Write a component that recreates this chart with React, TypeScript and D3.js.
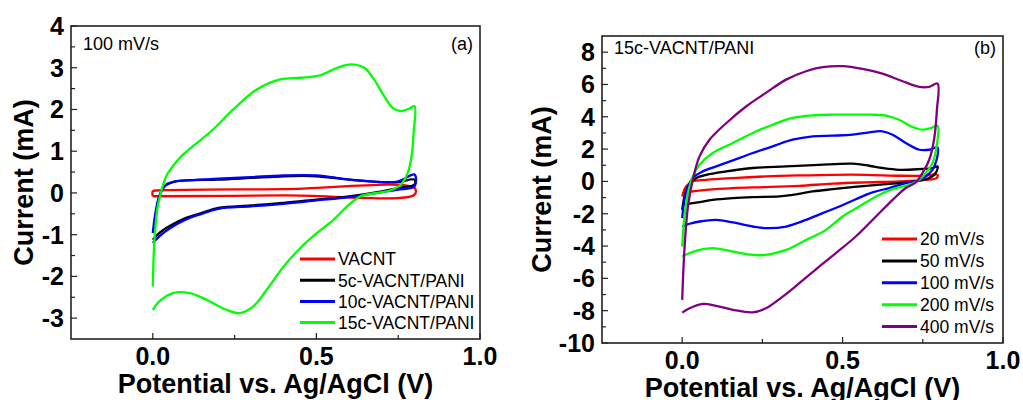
import React from 'react';
import * as d3 from 'd3';

type Pt = [number, number];

// panel (a): 100 mV/s, different cycle counts  [V, mA]
const vacnt: Pt[] = [
  [0, -0.08], [0, 0.04], [0.02, 0.06], [0.4, 0.09], [0.8, 0.12],
  [0.8, -0.04], [0.4, -0.06], [0, -0.08],
];
const pani5c: Pt[] = [
  [0.002, -0.96], [0.01, -0.48], [0.02, -0.08], [0.036, 0.16], [0.061, 0.26], [0.1, 0.3],
  [0.2, 0.32], [0.3, 0.36], [0.4, 0.4], [0.5, 0.4], [0.6, 0.32], [0.7, 0.26], [0.75, 0.26], [0.8, 0.32],
  [0.8, 0.2], [0.75, 0.12], [0.7, 0.04], [0.6, -0.08], [0.5, -0.16], [0.4, -0.24], [0.3, -0.3],
  [0.2, -0.36], [0.15, -0.48], [0.1, -0.6], [0.05, -0.8], [0.02, -0.96], [0, -1.12],
];
const pani10c: Pt[] = [
  [0, -0.96], [0.008, -0.48], [0.02, -0.08], [0.041, 0.2], [0.072, 0.28], [0.1, 0.3],
  [0.2, 0.34], [0.3, 0.38], [0.4, 0.42], [0.5, 0.42], [0.6, 0.32], [0.7, 0.26], [0.75, 0.28], [0.8, 0.44],
  [0.8, 0.16], [0.75, 0.08], [0.7, 0.02], [0.6, -0.1], [0.5, -0.18], [0.4, -0.26], [0.3, -0.32],
  [0.2, -0.38], [0.15, -0.5], [0.1, -0.64], [0.05, -0.86], [0.02, -1.04], [0, -1.2],
];
const pani15c: Pt[] = [
  [0, -2.24], [0.003, -1.44], [0.008, -0.8], [0.015, -0.32], [0.026, 0.04], [0.041, 0.4],
  [0.061, 0.64], [0.087, 0.88], [0.123, 1.12], [0.184, 1.52], [0.246, 2.0], [0.318, 2.48],
  [0.389, 2.72], [0.451, 2.76], [0.512, 2.82], [0.564, 3.0], [0.605, 3.08], [0.646, 3.0],
  [0.676, 2.72], [0.707, 2.32], [0.733, 2.04], [0.758, 1.96], [0.784, 2.02], [0.8, 2.08],
  [0.797, 1.44], [0.791, 0.88], [0.779, 0.48], [0.758, 0.2], [0.727, 0.064],
  [0.686, 0], [0.635, -0.08], [0.594, -0.32], [0.553, -0.64], [0.502, -0.96], [0.451, -1.32],
  [0.4, -1.76], [0.348, -2.32], [0.307, -2.72], [0.266, -2.88], [0.225, -2.8], [0.164, -2.56],
  [0.113, -2.4], [0.061, -2.4], [0.02, -2.6], [0, -2.8],
];

// panel (b): 15c-VACNT/PANI at several scan rates
const scan20: Pt[] = [
  [0, -0.93], [0.012, -0.31], [0.033, 0], [0.075, 0.1], [0.158, 0.21], [0.261, 0.31],
  [0.365, 0.37], [0.469, 0.41], [0.573, 0.41], [0.676, 0.35], [0.759, 0.35], [0.796, 0.41],
  [0.793, 0.21], [0.759, 0.1], [0.676, 0], [0.573, -0.06], [0.469, -0.14], [0.365, -0.27],
  [0.261, -0.35], [0.158, -0.41], [0.075, -0.52], [0.033, -0.62], [0.007, -0.72], [0, -0.76],
];
const scan50: Pt[] = [
  [0, -1.76], [0.007, -0.93], [0.018, -0.31], [0.044, 0.21], [0.075, 0.41], [0.137, 0.62],
  [0.22, 0.83], [0.324, 0.93], [0.427, 1.03], [0.531, 1.1], [0.583, 0.97], [0.624, 0.83],
  [0.676, 0.72], [0.739, 0.76], [0.78, 0.83], [0.796, 0.93],
  [0.79, 0.52], [0.77, 0.21], [0.728, 0], [0.676, -0.1], [0.573, -0.27], [0.469, -0.48],
  [0.407, -0.62], [0.344, -0.83], [0.303, -0.93], [0.22, -0.97], [0.158, -1.03], [0.095, -1.14],
  [0.054, -1.28], [0.023, -1.38], [0.002, -1.45],
];
const scan100: Pt[] = [
  [0, -2.27], [0.007, -1.14], [0.018, -0.31], [0.038, 0.31], [0.064, 0.62], [0.106, 0.93],
  [0.158, 1.3], [0.22, 1.76], [0.282, 2.17], [0.344, 2.58], [0.407, 2.79], [0.469, 2.83],
  [0.531, 2.89], [0.583, 3.04], [0.624, 3.1], [0.656, 2.89], [0.697, 2.38], [0.739, 1.96],
  [0.77, 1.96], [0.796, 2.1],
  [0.793, 1.34], [0.78, 0.72], [0.759, 0.31], [0.739, 0.06], [0.697, -0.1], [0.645, -0.41],
  [0.593, -0.68], [0.541, -1.1], [0.49, -1.55], [0.438, -1.96], [0.386, -2.38], [0.324, -2.79],
  [0.261, -2.89], [0.22, -2.79], [0.158, -2.54], [0.106, -2.38], [0.054, -2.48], [0.023, -2.62],
  [0, -2.79],
];
const scan200: Pt[] = [
  [0, -4.03], [0.007, -2.17], [0.018, -0.72], [0.033, 0.31], [0.054, 1.03], [0.095, 1.76],
  [0.158, 2.38], [0.22, 3.0], [0.282, 3.51], [0.344, 3.93], [0.407, 4.09], [0.469, 4.13],
  [0.531, 4.13], [0.593, 4.13], [0.635, 4.07], [0.676, 3.82], [0.718, 3.37], [0.749, 3.2],
  [0.775, 3.3], [0.796, 3.45],
  [0.793, 2.17], [0.78, 1.14], [0.759, 0.52], [0.739, 0.1], [0.707, -0.21], [0.656, -0.48],
  [0.604, -0.93], [0.552, -1.55], [0.5, -2.17], [0.448, -3.0], [0.386, -3.62], [0.324, -4.24],
  [0.261, -4.55], [0.22, -4.55], [0.158, -4.34], [0.095, -4.13], [0.054, -4.24], [0.023, -4.44],
  [0, -4.65],
];
const scan400: Pt[] = [
  [0, -7.33], [0.007, -4.2], [0.018, -1.55], [0.033, 0.1], [0.054, 1.55], [0.085, 2.58],
  [0.137, 3.6], [0.2, 4.65], [0.261, 5.48], [0.324, 6.3], [0.386, 6.82], [0.438, 7.07],
  [0.5, 7.13], [0.562, 6.96], [0.624, 6.67], [0.687, 6.2], [0.739, 5.85], [0.77, 5.85],
  [0.796, 6.05],
  [0.794, 4.44], [0.785, 2.58], [0.77, 1.34], [0.749, 0.52], [0.728, -0.06], [0.697, -0.41],
  [0.656, -1.14], [0.604, -2.17], [0.541, -3.41], [0.479, -4.44], [0.427, -5.27], [0.365, -6.3],
  [0.313, -7.13], [0.261, -7.85], [0.22, -8.1], [0.158, -7.95], [0.106, -7.7], [0.064, -7.58],
  [0.023, -7.85], [0, -8.12],
];

const labelsA = ['VACNT', '5c-VACNT/PANI', '10c-VACNT/PANI', '15c-VACNT/PANI'];
const labelsB = ['20 mV/s', '50 mV/s', '100 mV/s', '200 mV/s', '400 mV/s'];
const colorsA = ['#ff0000', '#000000', '#0000ff', '#00ff00'];
const colorsB = ['#ff0000', '#000000', '#0000ff', '#00ff00', '#800080'];

const xTicks = [0, 0.5, 1.0];
const xMinor = [0.25, 0.75];
const yTicksA = [-3, -2, -1, 0, 1, 2, 3, 4];
const yMinorA = [-2.5, -1.5, -0.5, 0.5, 1.5, 2.5, 3.5];
const yTicksB = [-10, -8, -6, -4, -2, 0, 2, 4, 6, 8];
const yMinorB = [-9, -7, -5, -3, -1, 1, 3, 5, 7];

const FONT = '"Liberation Sans", Arial, sans-serif';

interface PanelProps {
  box: { left: number; right: number; top: number; bottom: number };
  yDomain: [number, number];
  yTicks: number[];
  yMinor: number[];
  series: Pt[][];
  colors: string[];
  labels: string[];
  legend: { x: number; y: number; step: number };
  note: string;
  tag: string;
  noteY: number;
  yTitleX: number;
}

function Panel(p: PanelProps) {
  const { box } = p;
  const x = d3.scaleLinear().domain([-0.25, 1.0]).range([box.left, box.right]);
  const y = d3.scaleLinear().domain(p.yDomain).range([box.bottom, box.top]);
  const line = d3.line<Pt>()
    .x(d => x(d[0]))
    .y(d => y(d[1]))
    .curve(d3.curveCatmullRom.alpha(0.5));
  const fmt = d3.format('.1f');
  return (
    <g fontFamily={FONT}>
      <defs>
        <clipPath id={'clip' + p.tag}>
          <rect x={box.left} y={box.top} width={box.right - box.left} height={box.bottom - box.top} />
        </clipPath>
      </defs>
      <g clipPath={`url(#clip${p.tag})`}>
        {p.series.map((s, i) => (
          <path key={i} d={line(s) || ''} fill="none" stroke={p.colors[i]} strokeWidth={2.3} strokeLinejoin="round" />
        ))}
      </g>
      <rect x={box.left} y={box.top} width={box.right - box.left} height={box.bottom - box.top}
        fill="none" stroke="#222" strokeWidth={1.6} />
      {/* inward ticks */}
      {xTicks.map(t => (
        <line key={'xt' + t} x1={x(t)} x2={x(t)} y1={box.bottom} y2={box.bottom - 6} stroke="#222" strokeWidth={1.2} />
      ))}
      {xMinor.map(t => (
        <line key={'xm' + t} x1={x(t)} x2={x(t)} y1={box.bottom} y2={box.bottom - 4} stroke="#222" strokeWidth={1.2} />
      ))}
      {p.yTicks.map(t => (
        <line key={'yt' + t} x1={box.left} x2={box.left + 6} y1={y(t)} y2={y(t)} stroke="#222" strokeWidth={1.2} />
      ))}
      {p.yMinor.map(t => (
        <line key={'ym' + t} x1={box.left} x2={box.left + 4} y1={y(t)} y2={y(t)} stroke="#222" strokeWidth={1.2} />
      ))}
      {xTicks.map(t => (
        <text key={'xl' + t} x={x(t)} y={box.bottom + 26} textAnchor="middle" fontSize={25} fontWeight="bold">{fmt(t)}</text>
      ))}
      {p.yTicks.map(t => (
        <text key={'yl' + t} x={box.left - 7} y={y(t)} dy="0.36em" textAnchor="end" fontSize={25} fontWeight="bold">{t}</text>
      ))}
      <text x={(box.left + box.right) / 2} y={box.bottom + 54} textAnchor="middle" fontSize={27} fontWeight="bold">
        Potential vs. Ag/AgCl (V)
      </text>
      <text transform={`translate(${p.yTitleX},${(box.top + box.bottom) / 2}) rotate(-90)`} textAnchor="middle"
        fontSize={27} fontWeight="bold">Current (mA)</text>
      <text x={box.left + 12} y={p.noteY} fontSize={18}>{p.note}</text>
      <text x={box.right - 7} y={p.noteY} textAnchor="end" fontSize={18}>({p.tag})</text>
      {p.labels.map((l, i) => (
        <g key={l}>
          <line x1={p.legend.x} x2={p.legend.x + 35} y1={p.legend.y + i * p.legend.step} y2={p.legend.y + i * p.legend.step}
            stroke={p.colors[i]} strokeWidth={3} />
          <text x={p.legend.x + 38} y={p.legend.y + i * p.legend.step} dy="0.36em" fontSize={17.5}>{l}</text>
        </g>
      ))}
    </g>
  );
}

export default function App() {
  return (
    <svg width={1023} height={400} style={{ position: 'absolute', left: 0, top: 0, background: '#fff' }}>
      <Panel
        box={{ left: 71, right: 480, top: 26, bottom: 339 }}
        yDomain={[-3.5, 4]}
        yTicks={yTicksA}
        yMinor={yMinorA}
        series={[vacnt, pani5c, pani10c, pani15c]}
        colors={colorsA}
        labels={labelsA}
        legend={{ x: 300, y: 259, step: 21.2 }}
        note="100 mV/s"
        tag="a"
        noteY={50}
        yTitleX={33}
      />
      <Panel
        box={{ left: 602, right: 1003, top: 36, bottom: 343 }}
        yDomain={[-10, 9]}
        yTicks={yTicksB}
        yMinor={yMinorB}
        series={[scan20, scan50, scan100, scan200, scan400]}
        colors={colorsB}
        labels={labelsB}
        legend={{ x: 882, y: 239, step: 21.9 }}
        note="15c-VACNT/PANI"
        tag="b"
        noteY={54}
        yTitleX={551}
      />
    </svg>
  );
}
